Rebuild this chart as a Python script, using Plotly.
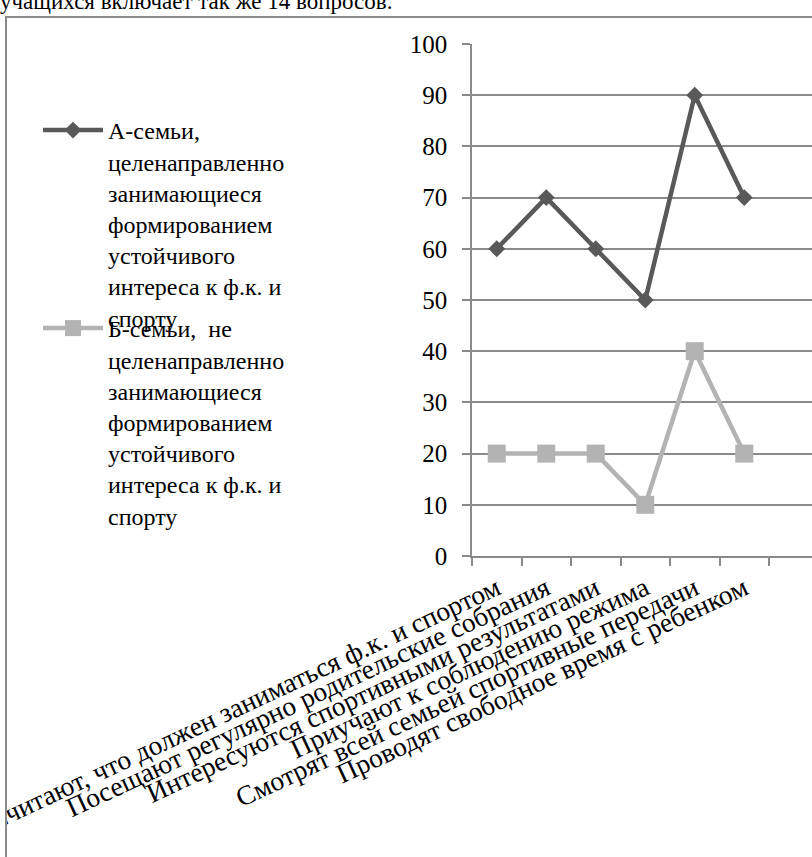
import plotly.graph_objects as go

# Survey answers: share of families (%) for each parental behaviour
categories = [
    "Считают, что должен заниматься ф.к. и спортом",
    "Посещают регулярно родительские собрания",
    "Интересуются спортивными результатами",
    "Приучают к соблюдению режима",
    "Смотрят всей семьей спортивные передачи",
    "Проводят свободное время с ребенком",
]
group_a = [60, 70, 60, 50, 90, 70]
group_b = [20, 20, 20, 10, 40, 20]

name_a = ("А-семьи,<br>целенаправленно<br>занимающиеся<br>формированием<br>"
          "устойчивого<br>интереса к ф.к. и<br>спорту")
name_b = ("Б-семьи,\u00a0 не<br>целенаправленно<br>занимающиеся<br>формированием<br>"
          "устойчивого<br>интереса к ф.к. и<br>спорту")
y_ticks = list(range(0, 101, 10))

W, H = 812, 857
PL, PR, PT, PB = 472, 812, 44, 556  # plot area in pixels


def px_x(p):
    return (p - PL) / (PR - PL)


def px_y(p):
    return (PB - p) / (PB - PT)


FONT = "Liberation Serif"
GRID = "#8a8a8a"

fig = go.Figure()
fig.add_trace(go.Scatter(
    x=categories, y=group_a, name=name_a, mode="lines+markers",
    line=dict(color="#595959", width=4.5),
    marker=dict(symbol="diamond", size=13, color="#595959"),
    legend="legend",
))
fig.add_trace(go.Scatter(
    x=categories, y=group_b, name=name_b, mode="lines+markers",
    line=dict(color="#b3b3b3", width=4.5),
    marker=dict(symbol="square", size=18, color="#b3b3b3"),
    legend="legend2",
))

n_slots = (PR - PL) / 49.5
fig.update_layout(
    width=W, height=H,
    margin=dict(l=PL, r=W - PR, t=PT, b=H - PB, pad=0, autoexpand=False),
    paper_bgcolor="white", plot_bgcolor="white",
    font=dict(family=FONT, color="#000000", size=24),
    showlegend=True,
    legend=dict(x=px_x(38), y=px_y(108), xanchor="left", yanchor="top",
                valign="top", itemwidth=60, bgcolor="rgba(0,0,0,0)",
                font=dict(family=FONT, size=24, color="#000")),
    legend2=dict(x=px_x(38), y=px_y(306), xanchor="left", yanchor="top",
                 valign="top", itemwidth=60, bgcolor="rgba(0,0,0,0)",
                 font=dict(family=FONT, size=24, color="#000")),
    xaxis=dict(
        type="category", categoryorder="array", categoryarray=categories,
        range=[-0.5, n_slots - 0.5], tickson="boundaries",
        ticks="outside", ticklen=8, tickcolor=GRID, tickwidth=1.5,
        showline=True, linecolor=GRID, linewidth=1.5,
        showgrid=False, tickangle=-25, automargin=False,
        tickfont=dict(family=FONT, size=27.5, color="#000"),
        ticklabelstandoff=4, zeroline=False,
    ),
    yaxis=dict(
        range=[0, 100], tickvals=y_ticks, ticks="outside", ticklen=8,
        tickcolor=GRID, tickwidth=1.5, showline=True, linecolor=GRID,
        linewidth=1.5, showgrid=True, gridcolor=GRID, gridwidth=1.5,
        zeroline=False, automargin=False,
        tickfont=dict(family=FONT, size=25, color="#000"),
        ticklabelstandoff=10,
    ),
)

# white margin left of the chart frame, then the frame itself
fig.add_shape(type="rect", xref="paper", yref="paper",
              x0=px_x(-200), x1=px_x(6), y0=px_y(900), y1=px_y(17),
              fillcolor="white", line=dict(width=0), layer="above")
fig.add_shape(type="rect", xref="paper", yref="paper",
              x0=px_x(6), x1=px_x(830), y0=px_y(900), y1=px_y(17),
              fillcolor="rgba(0,0,0,0)", line=dict(color="#8a8a8a", width=2),
              layer="above")

# tail of the preceding paragraph above the chart frame
fig.add_annotation(text="учащихся включает так же 14 вопросов.",
                   xref="paper", yref="paper", x=px_x(-2), y=px_y(1.5),
                   xanchor="left", yanchor="middle", showarrow=False,
                   font=dict(family=FONT, size=23, color="#000"))

fig.write_html("out.html")
